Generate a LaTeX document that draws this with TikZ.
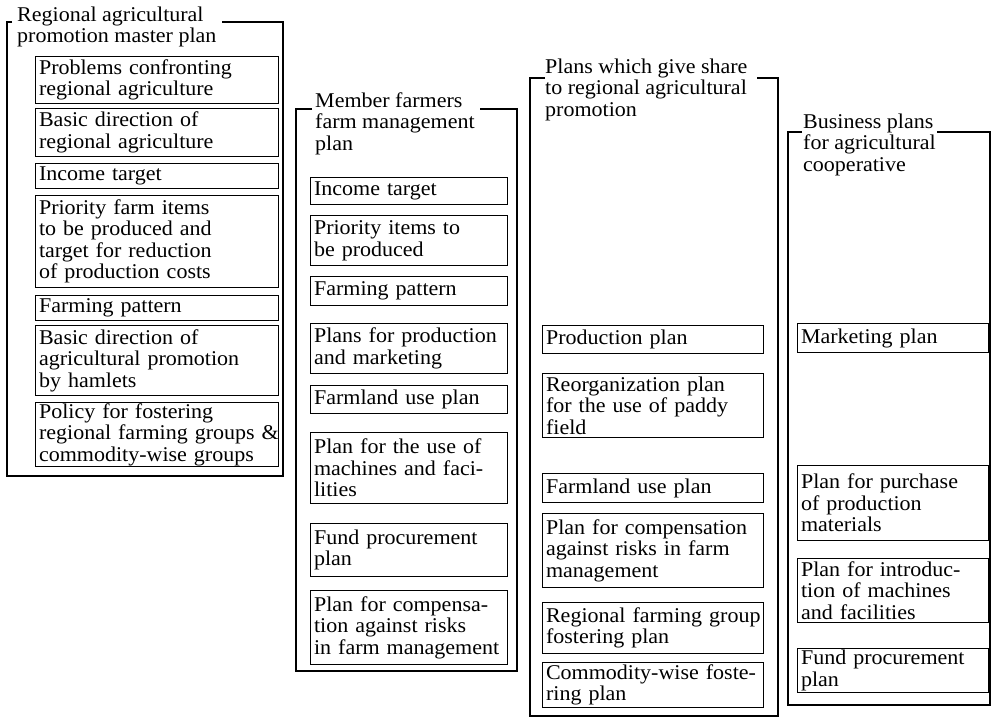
\documentclass[tikz,border=0pt]{standalone}
\usepackage{fontspec}
\setmainfont[FakeStretch=1.048]{Liberation Serif}
\newcommand\plantext{\fontsize{21}{21.5}\selectfont}
% keeps one line of a box in one piece
\newcommand\keep[1]{\mbox{#1}}
\begin{document}
\begin{tikzpicture}[x=1pt,y=-1pt,
  frame/.style={line width=1.1pt},
  item/.style={draw, line width=1.1pt, anchor=north west, align=left,
    inner xsep=3.5pt, inner ysep=0pt, font=\plantext},
  colA/.style={item, text width=236pt},
  colB/.style={item, text width=190pt},
  colC/.style={item, text width=214pt},
  colD/.style={item, text width=184pt},
  heading/.style={anchor=north west, align=left, inner sep=0pt, font=\plantext}]
\useasboundingbox (0,0) rectangle (991,718);

% ---- Regional agricultural promotion master plan ----
\node[heading] (tA) at (17,6.5) {Regional agricultural\\promotion master plan};
\draw[frame] (12,22) -- (7,22) -- (7,476) -- (283,476) -- (283,22) -- (222,22);
\node[colA, minimum height=47pt] (a1) at (35,56) {\keep{Problems confronting}\\\keep{regional agriculture}};
\node[colA, minimum height=48pt] (a2) at (35,108) {Basic direction of\\\keep{regional agriculture}};
\node[colA, minimum height=25pt] (a3) at (35,163) {Income target};
\node[colA, minimum height=92pt] (a4) at (35,195) {Priority farm items\\to be produced and\\\keep{target for reduction}\\\keep{of production costs}};
\node[colA, minimum height=25pt] (a5) at (35,295) {Farming pattern};
\node[colA, minimum height=70pt] (a6) at (35,325) {Basic direction of\\\keep{agricultural promotion}\\by hamlets};
\node[colA, minimum height=64pt] (a7) at (35,402) {Policy for fostering\\\keep{regional farming groups \&}\\\keep{commodity-wise groups}};

% ---- Member farmers farm management plan ----
\node[heading] (tB) at (315,92.5) {Member farmers\\farm management\\plan};
\draw[frame] (312,109) -- (296,109) -- (296,671) -- (517,671) -- (517,109) -- (480,109);
\node[colB, minimum height=27pt] (b1) at (310,177) {Income target};
\node[colB, minimum height=50pt] (b2) at (310,215) {Priority items to\\be produced};
\node[colB, minimum height=29pt] (b3) at (310,276) {Farming pattern};
\node[colB, minimum height=50pt] (b4) at (310,323) {\keep{Plans for production}\\and marketing};
\node[colB, minimum height=28pt] (b5) at (310,385) {Farmland use plan};
\node[colB, minimum height=71pt] (b6) at (310,432) {\keep{Plan for the use of}\\\keep{machines and faci-}\\lities};
\node[colB, minimum height=53pt] (b7) at (310,523) {\keep{Fund procurement}\\plan};
\node[colB, minimum height=74pt] (b8) at (310,590) {\keep{Plan for compensa-}\\\keep{tion against risks}\\\keep{in farm management}};

% ---- Plans which give share to regional agricultural promotion ----
\node[heading] (tC) at (545,58.5) {Plans which give share\\to regional agricultural\\promotion};
\draw[frame] (545,78) -- (530,78) -- (530,716) -- (778,716) -- (778,78) -- (757,78);
\node[colC, minimum height=28pt] (c1) at (542,325) {Production plan};
\node[colC, minimum height=64pt] (c2) at (542,373) {\keep{Reorganization plan}\\\keep{for the use of paddy}\\field};
\node[colC, minimum height=29pt] (c3) at (542,473) {Farmland use plan};
\node[colC, minimum height=74pt] (c4) at (542,513) {\keep{Plan for compensation}\\\keep{against risks in farm}\\management};
\node[colC, minimum height=51pt] (c5) at (542,602) {\keep{Regional farming group}\\fostering plan};
\node[colC, minimum height=45pt] (c6) at (542,662) {\keep{Commodity-wise foste-}\\ring plan};

% ---- Business plans for agricultural cooperative ----
\node[heading] (tD) at (803,113.5) {Business plans\\for agricultural\\cooperative};
\draw[frame] (802,132) -- (788,132) -- (788,705) -- (990,705) -- (990,132) -- (937,132);
\node[colD, minimum height=29pt] (d1) at (797,323) {Marketing plan};
\node[colD, minimum height=75pt] (d2) at (797,465) {\keep{Plan for purchase}\\of production\\materials};
\node[colD, minimum height=64pt] (d3) at (797,558) {\keep{Plan for introduc-}\\\keep{tion of machines}\\\keep{and facilities}};
\node[colD, minimum height=44pt] (d4) at (797,648) {\keep{Fund procurement}\\plan};
\end{tikzpicture}
\end{document}
